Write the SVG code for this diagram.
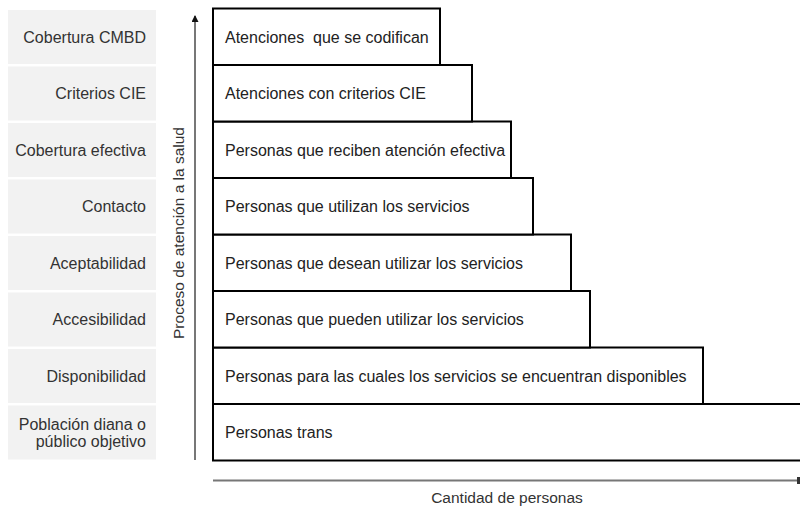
<svg xmlns="http://www.w3.org/2000/svg" width="800" height="509" viewBox="0 0 800 509">
<style>
.lab{fill:#f2f2f2;stroke:none}
.lt{font-family:"Liberation Sans",Arial,sans-serif;font-size:16px;fill:#333;text-anchor:end}
.box{fill:#fff;stroke:#000;stroke-width:2}
.bt{font-family:"Liberation Sans",Arial,sans-serif;font-size:16px;fill:#222}
.ax{stroke:#777;stroke-width:2;fill:none}
.at{font-family:"Liberation Sans",Arial,sans-serif;font-size:15.5px;fill:#333}
</style>
<defs>
<marker id="ah" markerWidth="8" markerHeight="8" refX="6" refY="3.5" orient="auto" markerUnits="userSpaceOnUse">
<path d="M0,0 L7,3.5 L0,7 Z" fill="#111"/>
</marker>
</defs>
<g id="labels">
<g id="l1"><rect class="lab" x="8" y="10" width="148" height="54"/><text class="lt" x="146" y="42.5">Cobertura CMBD</text></g>
<g id="l2"><rect class="lab" x="8" y="66.5" width="148" height="54"/><text class="lt" x="146" y="99">Criterios CIE</text></g>
<g id="l3"><rect class="lab" x="8" y="123" width="148" height="54"/><text class="lt" x="146" y="155.5">Cobertura efectiva</text></g>
<g id="l4"><rect class="lab" x="8" y="179.5" width="148" height="54"/><text class="lt" x="146" y="212">Contacto</text></g>
<g id="l5"><rect class="lab" x="8" y="236" width="148" height="54"/><text class="lt" x="146" y="268.5">Aceptabilidad</text></g>
<g id="l6"><rect class="lab" x="8" y="292.5" width="148" height="54"/><text class="lt" x="146" y="325">Accesibilidad</text></g>
<g id="l7"><rect class="lab" x="8" y="349" width="148" height="54"/><text class="lt" x="146" y="381.5">Disponibilidad</text></g>
<g id="l8"><rect class="lab" x="8" y="405.5" width="148" height="54"/><text class="lt" x="146" y="429.5">Población diana o</text><text class="lt" x="146" y="447">público objetivo</text></g>
</g>
<g id="connectors">
<line class="ax" x1="195" y1="460" x2="195" y2="16" marker-end="url(#ah)"/>
<line class="ax" x1="213" y1="480.5" x2="800" y2="480.5"/>
<rect x="797" y="477" width="3" height="7" fill="#333"/>
</g>
<g id="axis-labels">
<text class="at" transform="translate(184,233) rotate(-90)" text-anchor="middle">Proceso de atención a la salud</text>
<text class="at" x="507" y="503" text-anchor="middle">Cantidad de personas</text>
</g>
<g id="b8"><rect class="box" x="213" y="404" width="600" height="56.5"/><text class="bt" x="225" y="438">Personas trans</text></g>
<g id="b7"><rect class="box" x="213" y="347.5" width="490" height="56.5"/><text class="bt" x="225" y="381.5">Personas para las cuales los servicios se encuentran disponibles</text></g>
<g id="b6"><rect class="box" x="213" y="291" width="377" height="56.5"/><text class="bt" x="225" y="325">Personas que pueden utilizar los servicios</text></g>
<g id="b5"><rect class="box" x="213" y="234.5" width="358" height="56.5"/><text class="bt" x="225" y="268.5">Personas que desean utilizar los servicios</text></g>
<g id="b4"><rect class="box" x="213" y="178" width="320" height="56.5"/><text class="bt" x="225" y="212">Personas que utilizan los servicios</text></g>
<g id="b3"><rect class="box" x="213" y="121.5" width="298" height="56.5"/><text class="bt" x="225" y="155.5">Personas que reciben atención efectiva</text></g>
<g id="b2"><rect class="box" x="213" y="65" width="259" height="56.5"/><text class="bt" x="225" y="99">Atenciones con criterios CIE</text></g>
<g id="b1"><rect class="box" x="213" y="8.5" width="227" height="56.5"/><text class="bt" x="225" y="42.5" xml:space="preserve">Atenciones  que se codifican</text></g>
</svg>
